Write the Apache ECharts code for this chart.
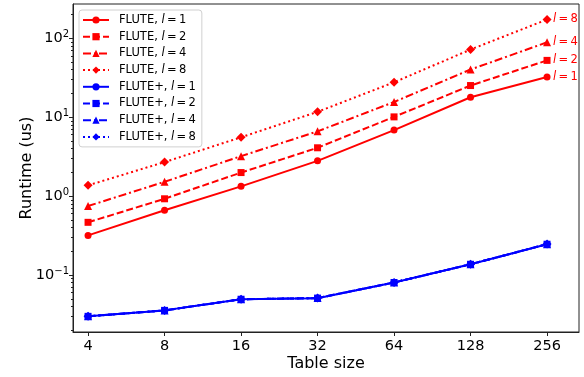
<!DOCTYPE html>
<html>
<head>
<meta charset="utf-8">
<script src="https://cdn.jsdelivr.net/npm/echarts@6/dist/echarts.min.js"></script>
<style>
  html, body { margin: 0; padding: 0; background: #fff; }
  #chart { width: 584px; height: 377px; }
</style>
</head>
<body>
<div id="chart"></div>
<script>
const tableSizes = [4, 8, 16, 32, 64, 128, 256];

// runtimes in us
const fluteL1 = [0.318, 0.664, 1.33, 2.80, 6.87, 17.9, 32.3];
const fluteL2 = [0.466, 0.926, 1.99, 4.10, 10.1, 25.2, 52.5];
const fluteL4 = [0.75, 1.52, 3.21, 6.62, 15.6, 40.2, 89];
const fluteL8 = [1.37, 2.70, 5.57, 11.7, 27.7, 72, 173];
const flutePlusL1 = [0.0300, 0.0357, 0.0494, 0.0510, 0.0805, 0.137, 0.246];
const flutePlusL2 = [0.0300, 0.0357, 0.0494, 0.0511, 0.0805, 0.137, 0.246];
const flutePlusL4 = [0.0300, 0.0357, 0.0494, 0.0511, 0.0805, 0.137, 0.246];
const flutePlusL8 = [0.0300, 0.0357, 0.0494, 0.0512, 0.0806, 0.137, 0.247];

const yMajorTicks = [0.1, 1, 10, 100];
const yMinorTicks = [0.02, 0.03, 0.04, 0.05, 0.06, 0.07, 0.08, 0.09,
  0.2, 0.3, 0.4, 0.5, 0.6, 0.7, 0.8, 0.9,
  2, 3, 4, 5, 6, 7, 8, 9,
  20, 30, 40, 50, 60, 70, 80, 90, 200];
const yTickExp = { 0.1: '\u22121', 1: '0', 10: '1', 100: '2' };

const FONT = 'DejaVu Sans';
const RED = '#ff0000';
const BLUE = '#0000ff';
const THIN = '\u2009';

const dashes = {
  1: 'solid',
  2: [7, 3],
  4: [8, 3, 2, 3],
  8: [2, 3],
};
const symbols = {
  1: 'circle',
  2: 'rect',
  4: 'triangle',
  8: 'diamond',
};
const symbolSizes = { 1: 7, 2: 7, 4: 8, 8: 9 };

// "l = n" with italic l, like matplotlib mathtext
const lText = (l) => '{i|l}' + THIN + '=' + THIN + l;

const makeSeries = (name, l, values, color, withLabel) => ({
  name: name,
  type: 'line',
  clip: false,
  data: tableSizes.map((s, i) => [s, values[i]]),
  symbol: symbols[l],
  symbolSize: symbolSizes[l],
  itemStyle: { color: color },
  lineStyle: { color: color, width: 2, type: dashes[l] },
  emphasis: { disabled: true },
  endLabel: withLabel ? {
    show: true,
    distance: 6,
    formatter: () => lText(l),
    color: color,
    fontFamily: FONT,
    fontSize: 11.5,
    rich: {
      i: { fontStyle: 'italic', fontFamily: FONT, fontSize: 11.5, color: color },
    },
  } : { show: false },
});

const seriesList = [
  makeSeries('FLUTE|1', 1, fluteL1, RED, true),
  makeSeries('FLUTE|2', 2, fluteL2, RED, true),
  makeSeries('FLUTE|4', 4, fluteL4, RED, true),
  makeSeries('FLUTE|8', 8, fluteL8, RED, true),
  makeSeries('FLUTE+|1', 1, flutePlusL1, BLUE, false),
  makeSeries('FLUTE+|2', 2, flutePlusL2, BLUE, false),
  makeSeries('FLUTE+|4', 4, flutePlusL4, BLUE, false),
  makeSeries('FLUTE+|8', 8, flutePlusL8, BLUE, false),
];

const chart = echarts.init(document.getElementById('chart'), null, { renderer: 'canvas' });

const option = {
  animation: false,
  backgroundColor: '#fff',
  grid: {
    left: 73, right: 5, top: 4, bottom: 39,
    show: true, borderColor: '#222', borderWidth: 1,
  },
  legend: {
    left: 79, top: 10,
    orient: 'vertical',
    padding: [4, 6, 4, 3],
    itemWidth: 26,
    itemHeight: 9,
    itemGap: 4.7,
    backgroundColor: '#fff',
    borderColor: '#d0d0d0',
    borderWidth: 1,
    borderRadius: 3,
    data: seriesList.map((s) => s.name),
    formatter: (name) => {
      const [method, l] = name.split('|');
      return method + ', ' + lText(l);
    },
    textStyle: {
      fontFamily: FONT, fontSize: 11.5, color: '#000', lineHeight: 12,
      padding: [0, 0, 0, 5],
      rich: { i: { fontStyle: 'italic', fontFamily: FONT, fontSize: 11.5, color: '#000' } },
    },
  },
  xAxis: {
    type: 'log',
    logBase: 2,
    min: 3.49,
    max: 342,
    name: 'Table size',
    nameLocation: 'middle',
    nameGap: 24,
    nameMoveOverlap: false,
    nameTextStyle: { fontFamily: FONT, fontSize: 16, color: '#000' },
    axisLine: { lineStyle: { color: '#222', width: 1 } },
    axisTick: { show: true, length: 4, lineStyle: { color: '#222' }, customValues: tableSizes },
    axisLabel: {
      customValues: tableSizes,
      margin: 7,
      fontFamily: FONT, fontSize: 14.5, color: '#000',
      formatter: (v) => String(Math.round(v)),
    },
    splitLine: { show: false },
    minorTick: { show: false },
  },
  yAxis: [
    {
      type: 'log',
      min: 0.019,
      max: 272,
      name: 'Runtime (us)',
      nameLocation: 'middle',
      nameGap: 38,
      nameMoveOverlap: false,
      nameTextStyle: { fontFamily: FONT, fontSize: 16, color: '#000' },
      axisLine: { show: true, lineStyle: { color: '#222', width: 1 } },
      axisTick: { show: true, length: 4, lineStyle: { color: '#222' }, customValues: yMajorTicks },
      axisLabel: {
        customValues: yMajorTicks,
        margin: 4,
        fontFamily: FONT, fontSize: 14.5, color: '#000',
        formatter: (v) => {
          const key = v < 0.5 ? 0.1 : v < 5 ? 1 : v < 50 ? 10 : 100;
          return '10{sup|' + yTickExp[key] + '}';
        },
        rich: {
          sup: { fontFamily: FONT, fontSize: 10, color: '#000', verticalAlign: 'top', padding: [0, 0, 8, 0] },
        },
      },
      splitLine: { show: false },
    },
    {
      type: 'log',
      min: 0.019,
      max: 272,
      position: 'left',
      axisLine: { show: false },
      axisTick: { show: true, length: 2, lineStyle: { color: '#222' }, customValues: yMinorTicks },
      axisLabel: { show: false },
      splitLine: { show: false },
    },
  ],
  series: seriesList,
};

chart.setOption(option);
</script>
</body>
</html>
